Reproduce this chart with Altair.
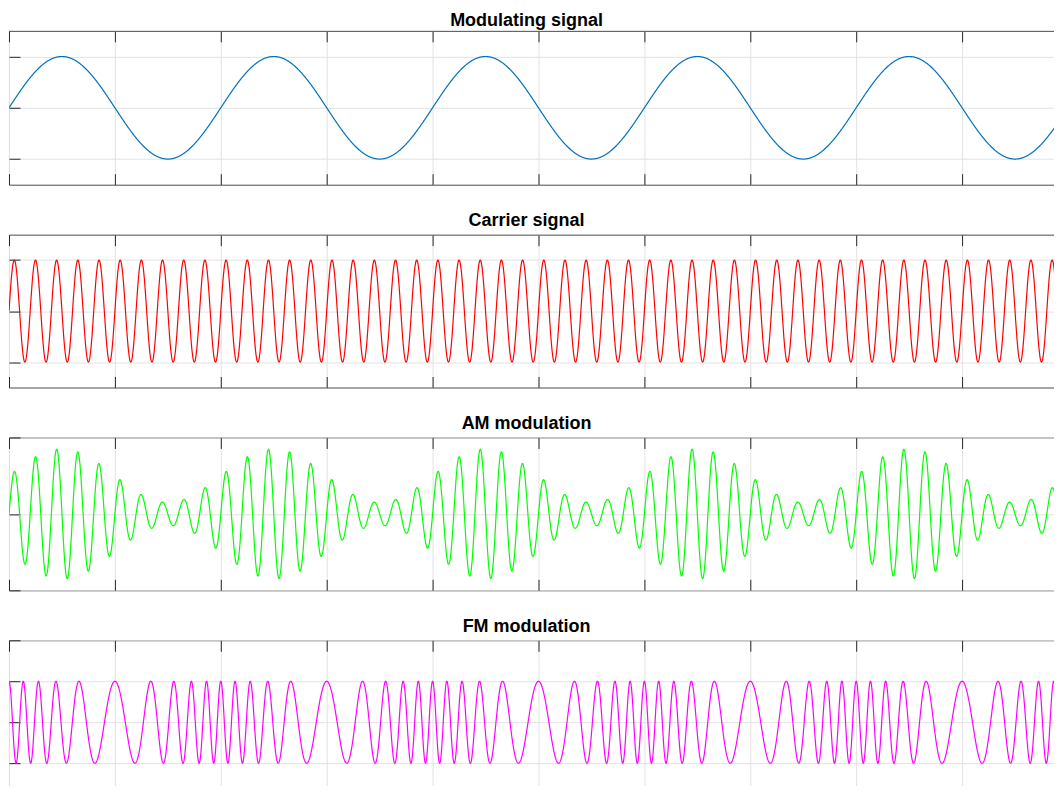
import altair as alt

# ---- values ----
TITLES = ["Modulating signal", "Carrier signal", "AM modulation", "FM modulation"]
COLORS = ["#0072BD", "#FF0000", "#00FF00", "#FF00FF"]
T_RANGE = [0, 10]            # time axis, one grid step = 1 unit
X_TICKS = [0, 1, 2, 3, 4, 5, 6, 7, 8, 9, 10]
F_MOD = [0.5]                # modulating frequency (period 2 units)
F_CARRIER = [5]              # carrier frequency (period 0.2 units)
AM_INDEX = [0.7]             # envelope 1.7 .. 0.3
FM_BETA = [5]                # frequency deviation 2.5 .. 7.5
Y_DOMAINS = [[-1.5, 1.5], [-1.5, 1.5], [-2, 2], [-1.9, 2]]
Y_TICKS = [[-1, 0, 1], [-1, 0, 1], [-2, 0, 2], [-2, -1, 0, 1, 2]]
HEIGHTS = [154, 153, 153, 160]
TITLE_OFFSETS = [0.5, 4, 4, 4]

fm, fc, m, b = F_MOD[0], F_CARRIER[0], AM_INDEX[0], FM_BETA[0]
EXPRS = [
    f"sin(2*PI*{fm}*datum.t)",
    f"sin(2*PI*{fc}*datum.t)",
    f"(1 + {m}*sin(2*PI*{fm}*datum.t)) * sin(2*PI*{fc}*datum.t)",
    f"cos(2*PI*{fc}*datum.t + {b}*sin(2*PI*{fm}*datum.t))",
]

TICK_COLOR = "#262626"
GRID_COLOR = "#e2e2e2"


def axis(orient, values, grid):
    return alt.Axis(orient=orient, values=values, labels=False, domain=False,
                    ticks=True, tickSize=11, offset=-11, tickColor=TICK_COLOR,
                    tickWidth=1, grid=grid, gridColor=GRID_COLOR, gridWidth=1,
                    minExtent=0, maxExtent=0)


def panel(i):
    xs = alt.Scale(domain=T_RANGE, nice=False, zero=False)
    ys = alt.Scale(domain=Y_DOMAINS[i], nice=False, zero=False)
    line = (
        alt.Chart(alt.sequence(T_RANGE[0], T_RANGE[1] + 0.001, 0.0025, as_="t"))
        .transform_calculate(v=EXPRS[i])
        .mark_line(color=COLORS[i], strokeWidth=1.2, clip=True)
        .encode(
            x=alt.X("t:Q", scale=xs, title=None, axis=axis("bottom", X_TICKS, True)),
            y=alt.Y("v:Q", scale=ys, title=None, axis=axis("left", Y_TICKS[i], True)),
        )
    )
    # invisible carrier of the top and right axes (box-style ticks)
    frame = (
        alt.Chart(alt.Data(values=[{"t": 5, "v": 0}]))
        .mark_point(opacity=0, size=1)
        .encode(
            x=alt.X("t:Q", scale=xs, title=None, axis=axis("top", X_TICKS, False)),
            y=alt.Y("v:Q", scale=ys, title=None, axis=axis("right", Y_TICKS[i], False)),
        )
    )
    return (
        alt.layer(line, frame)
        .resolve_axis(x="independent", y="independent")
        .properties(width=1060, height=HEIGHTS[i],
                    title=alt.TitleParams(TITLES[i], dx=-12,
                                          offset=TITLE_OFFSETS[i]))
    )


chart = (
    alt.vconcat(*[panel(i) for i in range(4)], spacing=26)
    .properties(padding={"left": 0, "top": 2.5, "right": -15, "bottom": -16})
    .configure_view(stroke="#4a4a4a", strokeWidth=1)
    .configure_title(font="Liberation Sans", fontSize=18, fontWeight="bold",
                     color="#000000", baseline="alphabetic", anchor="middle")
)

chart.save("out.html", embed_options={"renderer": "svg", "actions": False})
